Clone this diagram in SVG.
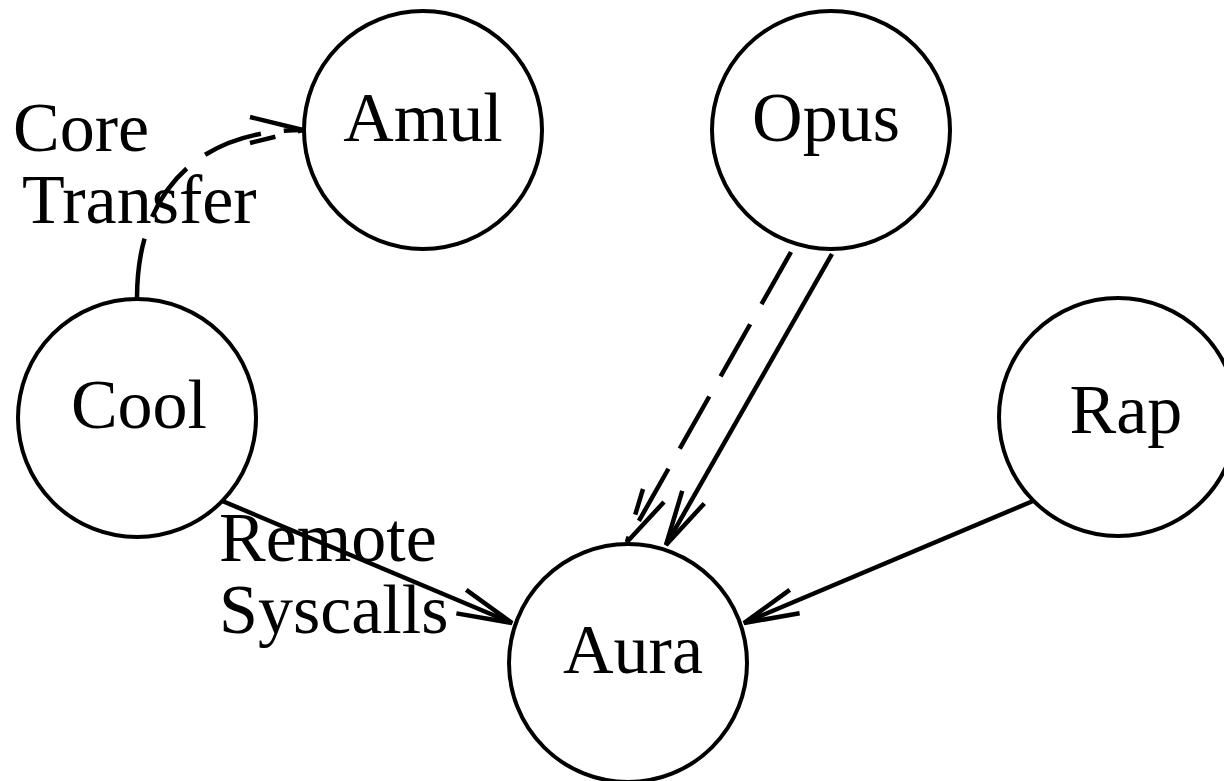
<svg xmlns="http://www.w3.org/2000/svg" width="1224" height="781" viewBox="0 0 1224 781">
<style>
.node circle{fill:#fff;stroke:#000;stroke-width:4}
text{font-family:"Liberation Serif","Times New Roman",serif;font-size:70px;fill:#000}
.node text{text-anchor:middle}
.edge{fill:none;stroke:#000;stroke-width:4.5}
.dash{stroke-dasharray:60 23}
</style>
<defs>
<marker id="vee" markerUnits="userSpaceOnUse" orient="auto" refX="0" refY="0" markerWidth="80" markerHeight="80" viewBox="-60 -40 80 80" overflow="visible">
<path d="M-55,-12.7 L0,0 L-55,12.7" fill="none" stroke="#000" stroke-width="4.5"/>
</marker>
</defs>
<rect width="1224" height="781" fill="#fff"/>
<g id="connectors">
<g id="e-cool-amul">
<path class="edge dash" d="M137,298 C137,190 200,130 303,130"/>
<path class="edge dash" d="M250,117 L303,130 L250,143"/>
</g>
<g id="e-opus-aura-dashed">
<path class="edge dash" d="M791,252 L627,542"/>
<path class="edge dash" d="M664,502 L627,542 L643,489"/>
</g>
<path id="e-opus-aura" class="edge" d="M832,254 L666,545" marker-end="url(#vee)"/>
<path id="e-cool-aura" class="edge" d="M220,500 L512,623" marker-end="url(#vee)"/>
<path id="e-rap-aura" class="edge" d="M1033,501 L744,623" marker-end="url(#vee)"/>
</g>
<g id="labels">
<text x="13" y="151">Core</text>
<text x="22" y="223">Transfer</text>
<text x="219" y="561">Remote</text>
<text x="219" y="633">Syscalls</text>
</g>
<g id="amul" class="node"><circle cx="423" cy="130" r="119"/><text x="423" y="141">Amul</text></g>
<g id="opus" class="node"><circle cx="831" cy="130" r="119"/><text x="826" y="141">Opus</text></g>
<g id="cool" class="node"><circle cx="137" cy="418" r="119"/><text x="139" y="428">Cool</text></g>
<g id="rap" class="node"><circle cx="1118" cy="417" r="119"/><text x="1126" y="433">Rap</text></g>
<g id="aura" class="node"><circle cx="628" cy="663" r="119"/><text x="633" y="673">Aura</text></g>
</svg>
